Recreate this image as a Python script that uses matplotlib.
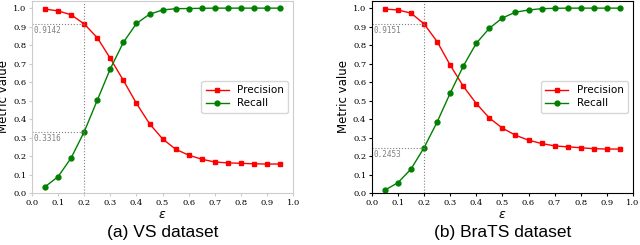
import matplotlib.pyplot as plt

eps = [0.05, 0.10, 0.15, 0.20, 0.25, 0.30, 0.35, 0.40, 0.45, 0.50,
       0.55, 0.60, 0.65, 0.70, 0.75, 0.80, 0.85, 0.90, 0.95]

# VS dataset
vs_precision = [0.995, 0.985, 0.964, 0.9142, 0.840, 0.728, 0.609, 0.485, 0.375, 0.293,
                0.237, 0.205, 0.183, 0.168, 0.163, 0.161, 0.158, 0.157, 0.157]
vs_recall = [0.034, 0.089, 0.190, 0.3316, 0.502, 0.672, 0.815, 0.917, 0.967, 0.990,
             0.997, 0.998, 0.999, 1.0, 1.0, 1.0, 1.0, 1.0, 1.0]

# BraTS dataset
br_precision = [0.995, 0.990, 0.973, 0.9151, 0.819, 0.692, 0.578, 0.484, 0.406, 0.351,
                0.313, 0.286, 0.268, 0.255, 0.250, 0.245, 0.240, 0.238, 0.238]
br_recall = [0.016, 0.056, 0.130, 0.2453, 0.384, 0.540, 0.686, 0.810, 0.891, 0.947,
             0.978, 0.990, 0.997, 0.999, 1.0, 1.0, 1.0, 1.0, 1.0]

panels = [
    ('(a) VS dataset', vs_precision, vs_recall, '#cccccc', '0.9142', '0.3316'),
    ('(b) BraTS dataset', br_precision, br_recall, 'black', '0.9151', '0.2453'),
]

fig = plt.figure(figsize=(6.4, 2.45), dpi=100)
lefts = [0.05, 0.581]

for left, (caption, prec, rec, spine_col, lab_p, lab_r) in zip(lefts, panels):
    ax = fig.add_axes([left, 0.212, 0.408, 0.785])
    ax.plot(eps, prec, color='red', marker='s', markersize=3.5, linewidth=1, label='Precision')
    ax.plot(eps, rec, color='green', marker='o', markersize=3.5, linewidth=1, label='Recall')

    # threshold guide lines at eps = 0.2
    ax.axvline(0.2, color='gray', linestyle=':', linewidth=0.8)
    ax.plot([0, 0.2], [prec[3], prec[3]], color='gray', linestyle=':', linewidth=0.8)
    ax.plot([0, 0.2], [rec[3], rec[3]], color='gray', linestyle=':', linewidth=0.8)
    ax.text(0.005, prec[3] - 0.012, lab_p, fontsize=5.5, color='gray', va='top', ha='left',
            family='DejaVu Sans Mono')
    ax.text(0.005, rec[3] - 0.012, lab_r, fontsize=5.5, color='gray', va='top', ha='left',
            family='DejaVu Sans Mono')

    ax.set_xlim(0, 1.0)
    ax.set_ylim(0, 1.04)
    ax.set_xticks([i / 10 for i in range(11)])
    ax.set_yticks([i / 10 for i in range(11)])
    for t in ax.get_xticklabels() + ax.get_yticklabels():
        t.set_family('DejaVu Serif')
        t.set_fontsize(6)
    ax.tick_params(length=2, pad=2, labelcolor='black', color=spine_col)
    for s in ax.spines.values():
        s.set_color(spine_col)
    ax.set_xlabel(r'$\epsilon$', fontsize=9, labelpad=1)
    ax.set_ylabel('Metric value', fontsize=8.5, labelpad=2)
    ax.legend(loc='center right', fontsize=7.5, handlelength=2.2, borderpad=0.4,
              labelspacing=0.3)
    fig.text(left + 0.204, 0.05, caption, ha='center', va='center', fontsize=12.5,
             family='Liberation Sans')

plt.savefig('out.png', dpi=100)
